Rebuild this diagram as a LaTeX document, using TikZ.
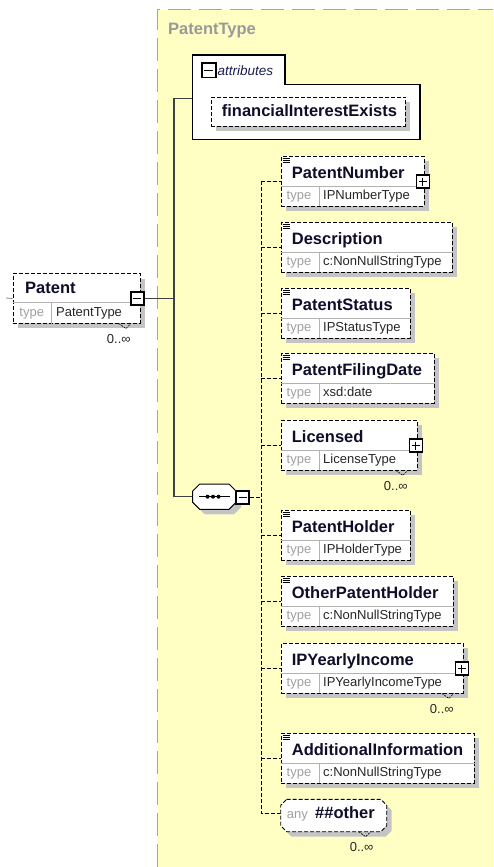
\documentclass[tikz,border=0pt]{standalone}
\usepackage{fontspec}
\setmainfont{Liberation Sans}
\usepackage{tikz}
\usetikzlibrary{calc,positioning,shadows}
\usepackage{xcolor}

\definecolor{typeyellow}{HTML}{FFFFC4}
\definecolor{framegray}{HTML}{A6A6A0}
\definecolor{headgray}{HTML}{999999}
\definecolor{shadowgray}{HTML}{C4C4C4}
\definecolor{labelgray}{HTML}{A0A0A0}
\definecolor{titleink}{HTML}{0E0E2A}
\definecolor{attrink}{HTML}{1C1C50}

\begin{document}
\begin{tikzpicture}[x=1pt, y=-1pt,
  shadowed/.style={general shadow={fill=shadowgray, shadow xshift=5pt, shadow yshift=-5pt}},
  elem/.style={draw, dash pattern=on 4pt off 2pt, line width=0.9pt, fill=white, inner sep=0pt, anchor=north west, shadowed},
  ttl/.style={anchor=base west, inner sep=0pt, font=\fontsize{16.5}{18}\selectfont\bfseries, text=titleink},
  typelbl/.style={anchor=base west, inner sep=0pt, font=\fontsize{13}{15}\selectfont, text=labelgray},
  typeval/.style={anchor=base west, inner sep=0pt, font=\fontsize{13}{15}\selectfont, text=black!85},
  multlbl/.style={anchor=north east, inner sep=0pt, font=\fontsize{13}{15}\selectfont, text=black!85},
  multmark/.style={line width=0.6pt, dash pattern=on 2pt off 1pt},
  bus/.style={dash pattern=on 4pt off 2pt, line width=0.9pt},
  trunk/.style={line width=1.2pt, black!75},
  rowline/.style={line width=0.8pt, black!30},
  colbox/.style={draw, fill=white, line width=1.6pt, minimum size=13pt, inner sep=0pt,
    path picture={\draw[line width=1.1pt] ([xshift=2.5pt]path picture bounding box.west) -- ([xshift=-2.5pt]path picture bounding box.east);}},
  expbox/.style={draw, fill=white, line width=1.6pt, minimum size=13pt, inner sep=0pt,
    path picture={\draw[line width=1.1pt] ([xshift=2.5pt]path picture bounding box.west) -- ([xshift=-2.5pt]path picture bounding box.east)
      ([yshift=-2.5pt]path picture bounding box.north) -- ([yshift=2.5pt]path picture bounding box.south);}}]

\useasboundingbox (0,0) rectangle (493,867);

% complex type frame
\fill[typeyellow] (157.5,9.7) rectangle (493,867);
\draw[framegray, line width=1.5pt, dash pattern=on 23pt off 8pt] (157.5,867) -- (157.5,9.7) -- (493,9.7);
\node[anchor=base west, inner sep=0pt, font=\fontsize{16.5}{18}\selectfont\bfseries, text=headgray] (typename) at (168,35) {PatentType};

% global element
\coordinate (patentstub) at (6,298);
\node[elem, minimum width=127.3pt, minimum height=49.4pt] (patent) at (12.7,273.3) {};
\draw[rowline] ($(patent.north west)+(0,29.4)$) -- ($(patent.north east)+(0,29.4)$);
\draw[rowline] ($(patent.north west)+(39,29.4)$) -- ($(patent.south west)+(39,0)$);
\node[ttl] at ($(patent.north west)+(12.3,20)$) {Patent};
\node[typelbl] at ($(patent.north west)+(6.6,43.4)$) {type};
\node[typeval] at ($(patent.north west)+(43.3,43.4)$) {PatentType};
\draw[multmark] ($(patent.south east)+(-22,0)$) -- ++(7,5) -- ++(5,-5);
\node[multlbl] at ($(patent.south east)+(-10,11)$) {0..∞};
\draw[black!50, line width=0.8pt] (patentstub) -- (patent.west);
\node[colbox] (patentcol) at (137.3,298.3) {};

% trunk
\coordinate (trunktop) at (174,98.3);
\coordinate (attrin) at (192.7,98.3);
\coordinate (seqin) at (192.7,496.7);
\draw[trunk] (patentcol.east) -- (trunktop |- patentcol.east);
\draw[trunk] (trunktop) -- (trunktop |- seqin) -- (seqin);
\draw[trunk] (trunktop) -- (attrin);

% attributes
\draw[line width=1.1pt, fill=white] (192.7,55) -- (285,55) -- (285,84.3) -- (420,84.3) -- (420,139.3) -- (192.7,139.3) -- cycle;
\node[colbox, minimum size=14pt] (attrcol) at (208.8,70.3) {};
\node[anchor=base west, inner sep=0pt, font=\fontsize{13.5}{15}\selectfont\itshape, text=attrink] (attrlbl) at (217.5,75) {attributes};
\node[elem, minimum width=194pt, minimum height=29.3pt] (fie) at (211,96.7) {};
\node[ttl] at ($(fie.north west)+(10.7,19.5)$) {financialInterestExists};

% sequence compositor
\draw[line width=1pt, fill=white, shadowed] (199.7,484) -- (229,484) -- (236,491) -- (236,502.3) -- (229,509.3) -- (199.7,509.3) -- (192.7,502.3) -- (192.7,491) -- cycle;
\draw[line width=1pt] (199.3,496.7) -- (230,496.7);
\fill foreach \k in {207.5,213,218.5} {(\k,496.7) circle (2pt)};
\node[colbox] (seqcol) at (242.7,497.2) {};

% sequence bus
\coordinate (busx) at (261,0);
\coordinate (anyin) at (280.7,813.5);
\draw[bus] (seqcol.east) -- (busx |- seqcol.east);

\foreach \nm/\yt/\xr/\lbl/\typ/\icon/\pl/\mult in {
  pnum/156/424/PatentNumber/IPNumberType/1/1/0,
  desc/222/452/Description/c:NonNullStringType/1/0/0,
  pstat/288/410/PatentStatus/IPStatusType/1/0/0,
  pfile/353/434/PatentFilingDate/xsd:date/1/0/0,
  lic/420/417/Licensed/LicenseType/0/1/1,
  phold/510/410/PatentHolder/IPHolderType/1/0/0,
  ophold/576/453/OtherPatentHolder/c:NonNullStringType/1/0/0,
  income/643/463/IPYearlyIncome/IPYearlyIncomeType/0/1/1,
  addinfo/733/474/AdditionalInformation/c:NonNullStringType/1/0/0}{
  \pgfmathsetmacro\w{\xr-281}
  \node[elem, minimum width=\w pt, minimum height=49.5pt] (\nm) at (281,\yt) {};
  \draw[rowline] ($(\nm.north west)+(0,30)$) -- ($(\nm.north east)+(0,30)$);
  \draw[rowline] ($(\nm.north west)+(38,30)$) -- ($(\nm.south west)+(38,0)$);
  \node[ttl] at ($(\nm.north west)+(10.7,22)$) {\lbl};
  \node[typelbl] at ($(\nm.north west)+(5.5,43.5)$) {type};
  \node[typeval] at ($(\nm.north west)+(42,43.5)$) {\typ};
  \draw[bus] (busx |- \nm.west) -- (\nm.west);
  \ifnum\icon=1
    \draw[line width=0.7pt] foreach \k in {2,4.2,6.4} {($(\nm.north west)+(1.5,\k)$) -- ++(7,0)};
  \fi
  \ifnum\pl=1
    \node[expbox] (\nm exp) at ($(\nm.east)+(-2,0.5)$) {};
  \fi
  \ifnum\mult=1
    \draw[multmark] ($(\nm.south east)+(-22,0)$) -- ++(7,5) -- ++(5,-5);
    \node[multlbl] at ($(\nm.south east)+(-10,11)$) {0..∞};
  \fi
}

% wildcard
\draw[bus] (busx |- pnum.west) -- (busx |- anyin) -- (anyin);
\draw[dash pattern=on 4pt off 2pt, line width=0.9pt, fill=white, shadowed] (286.7,799.3) -- (380.7,799.3) -- (386.7,805.3) -- (386.7,825.7) -- (380.7,831.7) -- (286.7,831.7) -- (280.7,825.7) -- (280.7,805.3) -- cycle;
\node[anchor=base west, inner sep=0pt, font=\fontsize{13}{15}\selectfont, text=labelgray] (anylbl) at (286.7,818.5) {any};
\node[ttl] (anyns) at (315,818.5) {\#\#other};
\draw[multmark] (358.7,831.7) -- ++(7,5) -- ++(5,-5);
\node[multlbl] at (373.7,842.7) {0..∞};

\end{tikzpicture}
\end{document}
